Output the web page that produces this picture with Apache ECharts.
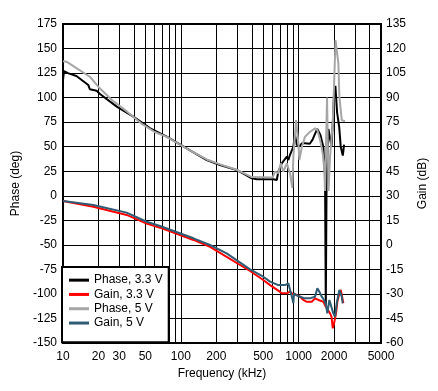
<!DOCTYPE html>
<html>
<head>
<meta charset="utf-8">
<script src="https://cdn.jsdelivr.net/npm/echarts@6/dist/echarts.min.js"></script>
<style>
html,body{margin:0;padding:0;background:#fff;}
#chart{width:438px;height:391px;}
</style>
</head>
<body>
<div id="chart"></div>
<script>
// ---- data (frequency in kHz) ----
var xGridValues = [10,20,30,40,50,60,70,80,90,100,200,300,400,500,600,700,800,900,1000,2000,3000,4000,5000];
var xLabelValues = [10,20,30,50,100,200,500,1000,2000,5000];
var phaseTicks = [-150,-125,-100,-75,-50,-25,0,25,50,75,100,125,150,175];
var gainTicks = [-60,-45,-30,-15,0,15,30,45,60,75,90,105,120,135];

var phase33Freq = [10,10.2,11,13,14.4,16.4,16.9,19.3,20.6,28.6,39.5,55,76,112,166,215,298,400,441,610,652,672,719,741,794,818,843,902,931,964,1010,1066,1131,1243,1310,1400,1440,1530,1620,1675,1700,1725,1790,1845,1900,1960,2000,2050,2120,2210,2275,2370,2430];
var phase33Val  = [118,127,125,122,118,112.8,108.5,107,103.7,90.8,80.6,68.7,60.2,48.3,36.4,31.3,26.3,17.8,16.8,16.8,16.1,24.5,33,31.4,39.8,36.4,41.5,50,62,52,50,53.5,53.5,53,57,65,68,62,50,20,-113,10,68,70,50,80,106,112,85,70,50,41,52];

var gain33Freq = [10,18.1,34.7,51.3,66.6,128,177,245,387,501,572,672,719,794,843,890,964,1028,1097,1172,1292,1378,1470,1620,1675,1732,1847,1900,1948,1998,2077,2130,2216,2277,2337,2396];
var gain33Val  = [26.8,23.3,18.3,13,10.5,3,-1.2,-7.3,-16,-21.5,-24.6,-28,-29.6,-29.6,-28.6,-30,-30.7,-31.7,-33.7,-34.8,-34.8,-32.7,-33.7,-34.8,-36.8,-38.8,-41.9,-43.9,-51,-48,-41.9,-34.8,-29.6,-27.6,-31.7,-35.7];

var phase5Freq = [10,10.7,13,17,20.5,26,35,46,60,76,112,166,215,298,400,600,630,672,705,741,794,843,884,902,951,995,1014,1066,1131,1243,1378,1441,1520,1602,1653,1675,1742,1794,1847,1948,2057,2173,2216,2322,2396,2477];
var phase5Val  = [137,136.6,130,121,109.5,97.6,85.7,73.8,65,60,48,37,32,26.5,19,18.5,24.5,23,33,24.5,33,23,8,40,77,53.5,36.4,50,60,65,68.7,67,57,43,26,5,100,5,40,73.5,158.7,135,101,77,75.5,76];

var gain5Freq = [10,18.1,34.7,51.3,66.6,128,177,245,387,501,572,672,767,818,890,902,914,951,1028,1131,1243,1378,1441,1499,1570,1643,1708,1752,1822,1970,2037,2105,2216,2277,2322,2366];
var gain5Val  = [26.8,24.4,19.7,14.1,11.5,4,-0.1,-5.2,-15,-19.5,-22.5,-24.6,-24.6,-23.5,-33.7,-35.7,-29.6,-30.7,-31.7,-32.7,-32.7,-31.7,-26.6,-28.6,-31.7,-33.7,-36.8,-41.9,-33.7,-41.9,-43.9,-35.7,-27.6,-27.6,-31.7,-35.7];

function pairs(xs, ys){ return xs.map(function(x,i){ return [x, ys[i]]; }); }

var FONT = '"Liberation Sans", Arial, sans-serif';
var chart = echarts.init(document.getElementById('chart'), null, {renderer:'canvas'});
var option = {
  animation: false,
  backgroundColor: '#fff',
  textStyle: {fontFamily: FONT, color: '#000'},
  grid: {left: 63, right: 57, top: 24, bottom: 48, show: true, borderColor: '#000', borderWidth: 2, backgroundColor: 'transparent'},
  legend: {
    orient: 'vertical', left: 62, top: 267,
    padding: [6, 6, 12, 7],
    itemGap: 0, itemWidth: 20, itemHeight: 3, icon: 'rect',
    backgroundColor: '#fff', borderColor: '#000', borderWidth: 2, borderRadius: 0,
    textStyle: {fontFamily: FONT, fontSize: 12, color: '#000', lineHeight: 14.3, padding: [0,0,0,0]},
    data: ['Phase, 3.3 V', 'Gain, 3.3 V', 'Phase, 5 V', 'Gain, 5 V']
  },
  xAxis: {
    type: 'log', logBase: 10, min: 10, max: 5000,
    name: 'Frequency (kHz)', nameLocation: 'middle', nameGap: 22,
    nameTextStyle: {fontFamily: FONT, fontSize: 12, color: '#000'},
    axisLine: {show: true, onZero: false, lineStyle: {color: '#000', width: 2}},
    axisTick: {show: false, customValues: xGridValues},
    axisLabel: {customValues: xLabelValues, fontFamily: FONT, fontSize: 12, color: '#000', margin: 8, formatter: function(v){ return String(Math.round(v)); }},
    splitLine: {show: true, lineStyle: {color: '#000', width: 1}},
    minorSplitLine: {show: false}
  },
  yAxis: [{
    type: 'value', min: -150, max: 175, interval: 25, position: 'left',
    name: 'Phase (deg)', nameLocation: 'middle', nameGap: 39, nameRotate: 90,
    nameTextStyle: {fontFamily: FONT, fontSize: 12, color: '#000'},
    axisLine: {show: true, onZero: false, lineStyle: {color: '#000', width: 2}},
    axisTick: {show: false},
    axisLabel: {fontFamily: FONT, fontSize: 12, color: '#000', margin: 6},
    splitLine: {show: true, lineStyle: {color: '#000', width: 1}}
  }, {
    type: 'value', min: -60, max: 135, interval: 15, position: 'right',
    name: 'Gain (dB)', nameLocation: 'middle', nameGap: 33, nameRotate: 90,
    nameTextStyle: {fontFamily: FONT, fontSize: 12, color: '#000'},
    axisLine: {show: true, onZero: false, lineStyle: {color: '#000', width: 2}},
    axisTick: {show: false},
    axisLabel: {fontFamily: FONT, fontSize: 12, color: '#000', margin: 5},
    splitLine: {show: false}
  }],
  series: [
    {name: 'Phase, 3.3 V', type: 'line', yAxisIndex: 0, data: pairs(phase33Freq, phase33Val), showSymbol: false, symbol: 'none', lineStyle: {color: '#000', width: 2}, itemStyle: {color: '#000'}},
    {name: 'Gain, 3.3 V', type: 'line', yAxisIndex: 1, data: pairs(gain33Freq, gain33Val), showSymbol: false, symbol: 'none', lineStyle: {color: '#ff0000', width: 2}, itemStyle: {color: '#ff0000'}},
    {name: 'Phase, 5 V', type: 'line', yAxisIndex: 0, data: pairs(phase5Freq, phase5Val), showSymbol: false, symbol: 'none', lineStyle: {color: '#a6a6a6', width: 2}, itemStyle: {color: '#a6a6a6'}},
    {name: 'Gain, 5 V', type: 'line', yAxisIndex: 1, data: pairs(gain5Freq, gain5Val), showSymbol: false, symbol: 'none', lineStyle: {color: '#2e5c72', width: 2}, itemStyle: {color: '#2e5c72'}}
  ]
};
chart.setOption(option);
</script>
</body>
</html>
